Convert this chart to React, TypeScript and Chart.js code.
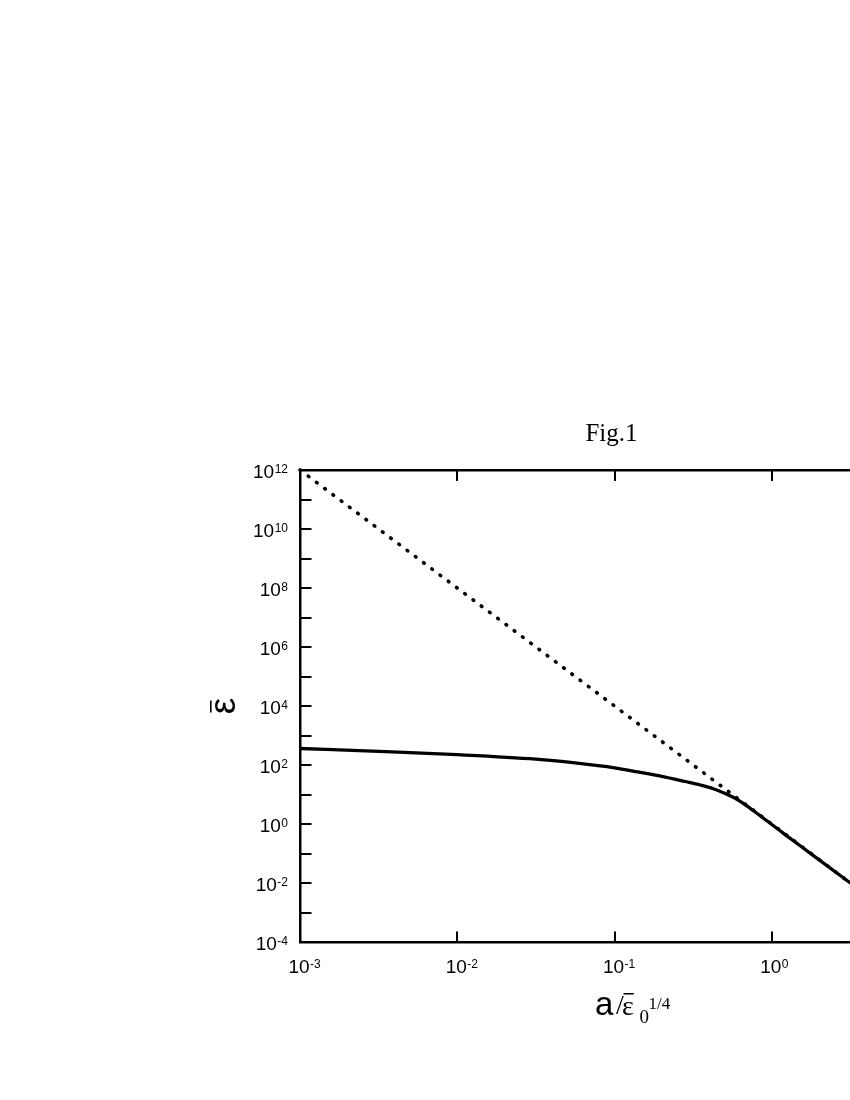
import React, { useEffect, useRef } from "react";
import { Chart, registerables } from "chart.js";

Chart.register(...registerables);

// ---- data ----
const solidX = [0.001, 0.00316, 0.01, 0.0316, 0.0562, 0.1, 0.141, 0.2, 0.281, 0.351, 0.425, 0.506, 0.603, 0.73, 0.881, 1.13, 1.259, 1.778, 3.162, 4.467];
const solidY = [363, 288, 224, 158, 117.5, 80.4, 58.2, 41.2, 27.6, 21.0, 15.7, 10.8, 6.78, 3.4, 1.6, 0.589, 0.38, 0.0977, 0.01, 0.00251];

const dottedX = [0.001, 0.01, 0.1, 1, 4.467];
const dottedY = [1e12, 1e8, 1e4, 1, 0.00251];

const xMin = 0.001;
const xMax = 10;
const yMin = 1e-4;
const yMax = 1e12;

const xTickValues = [0.001, 0.01, 0.1, 1];
const xTickExps = ["-3", "-2", "-1", "0"];
const xTopTickValues = [0.001, 0.01, 0.1, 1, 10];

const yTickValues = [1e12, 1e10, 1e8, 1e6, 1e4, 1e2, 1, 1e-2, 1e-4];
const yTickExps = ["12", "10", "8", "6", "4", "2", "0", "-2", "-4"];
const yMinorValues = [1e11, 1e9, 1e7, 1e5, 1e3, 1e1, 1e-1, 1e-3];

const tickBase = "10";
const chartTitle = "Fig.1";
const yTitle = "ε";
const xTitleA = "a";
const xTitleSlash = "/";
const xTitleEps = "ε";
const xTitleSub = "0";
const xTitleSup = "1/4";

const SANS = "'Liberation Sans', Arial, sans-serif";
const SERIF = "'Liberation Serif', 'Times New Roman', serif";

const decorPlugin = {
  id: "decor",
  afterDraw(chart: any) {
    const { ctx, chartArea: ca, scales } = chart;
    const xs = scales.x;
    const ys = scales.y;
    ctx.save();
    ctx.strokeStyle = "#000";
    ctx.fillStyle = "#000";
    ctx.lineWidth = 2;
    ctx.lineCap = "butt";
    const line = (x1: number, y1: number, x2: number, y2: number) => {
      ctx.beginPath();
      ctx.moveTo(x1, y1);
      ctx.lineTo(x2, y2);
      ctx.stroke();
    };
    // inward ticks on the left axis
    [...yTickValues, ...yMinorValues].forEach((v) => {
      const py = Math.round(ys.getPixelForValue(v));
      line(ca.left, py, ca.left + 11.5, py);
    });
    // inward ticks on top and bottom axes
    xTopTickValues.forEach((v) => {
      const px = Math.round(xs.getPixelForValue(v));
      line(px, ca.top, px, ca.top + 11);
    });
    xTickValues.forEach((v) => {
      const px = Math.round(xs.getPixelForValue(v));
      line(px, ca.bottom, px, ca.bottom - 10.5);
    });

    // y tick labels: 10 with superscript exponent
    ctx.textBaseline = "alphabetic";
    yTickValues.forEach((v, i) => {
      const py = ys.getPixelForValue(v);
      const right = ca.left - 12;
      ctx.font = `12px ${SANS}`;
      const ew = ctx.measureText(yTickExps[i]).width;
      ctx.textAlign = "left";
      ctx.fillText(yTickExps[i], right - ew, py + 7.5 - 5);
      ctx.font = `19px ${SANS}`;
      ctx.textAlign = "right";
      ctx.fillText(tickBase, right - ew - 0.5, py + 7.5);
    });

    // x tick labels
    xTickValues.forEach((v, i) => {
      const px = xs.getPixelForValue(v);
      ctx.font = `19px ${SANS}`;
      const bw = ctx.measureText(tickBase).width;
      const left = px - 1 - bw / 2;
      ctx.textAlign = "left";
      ctx.fillText(tickBase, left, ca.bottom + 31);
      ctx.font = `12px ${SANS}`;
      ctx.fillText(xTickExps[i], left + bw + 0.5, ca.bottom + 26);
    });

    // title
    ctx.font = `25px ${SERIF}`;
    ctx.textAlign = "center";
    ctx.fillText(chartTitle, (ca.left + ca.right) / 2 - 3, ca.top - 29);

    // y axis title (rotated) with overbar
    ctx.save();
    ctx.translate(ca.left - 65, (ca.top + ca.bottom) / 2);
    ctx.rotate(-Math.PI / 2);
    ctx.font = `37px ${SANS}`;
    ctx.textAlign = "center";
    ctx.textBaseline = "alphabetic";
    ctx.fillText(yTitle, 0, 0);
    ctx.fillRect(-6.5, -25, 12, 1.6);
    ctx.restore();

    // x axis title
    const bx = ca.left + 295;
    const by = ca.bottom + 73;
    ctx.textAlign = "left";
    ctx.font = `33px ${SANS}`;
    ctx.fillText(xTitleA, bx, by);
    ctx.font = `28px ${SERIF}`;
    ctx.fillText(xTitleSlash, bx + 21, by - 1);
    const ex = bx + 27;
    ctx.fillText(xTitleEps, ex, by);
    const epw = ctx.measureText(xTitleEps).width;
    ctx.fillRect(ex + 1.5, by - 22, epw - 1.5, 1.5);
    ctx.font = `19px ${SERIF}`;
    ctx.fillText(xTitleSub, bx + 44.5, by + 8);
    ctx.font = `17px ${SERIF}`;
    ctx.fillText(xTitleSup, bx + 53.5, by - 6);

    ctx.restore();
  },
};

export default function App() {
  const canvasRef = useRef<HTMLCanvasElement>(null);

  useEffect(() => {
    const canvas = canvasRef.current;
    if (!canvas) return;
    const borderOpts = { display: true, color: "#000", width: 2.5 };
    const gridOpts = { display: false, drawTicks: false, tickLength: 0 };
    const chart = new Chart(canvas, {
      type: "line",
      data: {
        datasets: [
          {
            data: solidX.map((x, i) => ({ x, y: solidY[i] })),
            borderColor: "#000",
            borderWidth: 3.3,
            pointRadius: 0,
            fill: false,
            clip: false,
            cubicInterpolationMode: "monotone",
          } as any,
          {
            data: dottedX.map((x, i) => ({ x, y: dottedY[i] })),
            borderColor: "#000",
            borderWidth: 3.6,
            borderDash: [0.8, 9.5],
            borderCapStyle: "round",
            pointRadius: 0,
            fill: false,
            clip: false,
            tension: 0,
          } as any,
        ],
      },
      options: {
        responsive: false,
        animation: false,
        devicePixelRatio: 1,
        layout: { padding: { left: 292, top: 462, right: 79, bottom: 116 } },
        plugins: {
          legend: { display: false },
          tooltip: { enabled: false },
          title: { display: false },
        },
        scales: {
          x: {
            type: "logarithmic",
            position: "bottom",
            min: xMin,
            max: xMax,
            ticks: { display: false, padding: 0 },
            grid: gridOpts,
            border: borderOpts,
          },
          xTop: {
            type: "logarithmic",
            axis: "x",
            position: "top",
            min: xMin,
            max: xMax,
            ticks: { display: false, padding: 0 },
            grid: gridOpts,
            border: borderOpts,
          },
          y: {
            type: "logarithmic",
            position: "left",
            min: yMin,
            max: yMax,
            ticks: { display: false, padding: 0 },
            grid: gridOpts,
            border: borderOpts,
          },
        },
      } as any,
      plugins: [decorPlugin],
    });
    return () => chart.destroy();
  }, []);

  return (
    <div
      style={{
        position: "fixed",
        left: 8,
        top: 8,
        width: 842,
        height: 1050,
        overflow: "hidden",
      }}
    >
      <canvas
        ref={canvasRef}
        width={1000}
        height={1050}
        style={{ display: "block", width: 1000, height: 1050 }}
      />
    </div>
  );
}
